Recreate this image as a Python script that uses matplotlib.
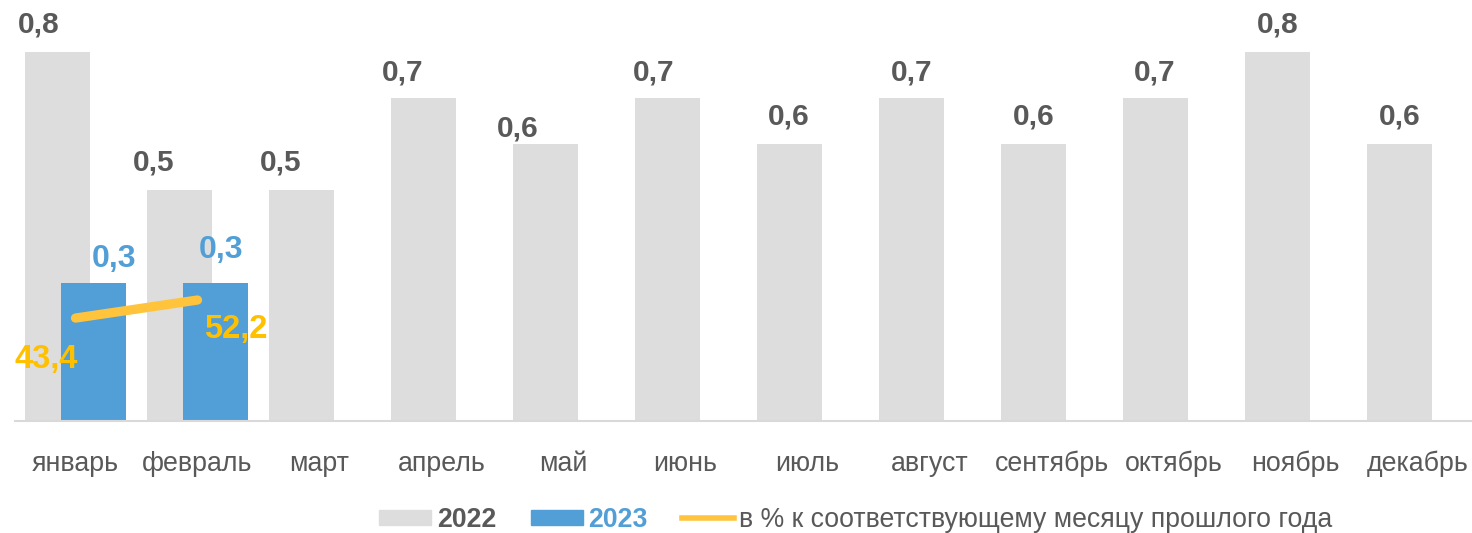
import matplotlib
matplotlib.use("Agg")
import matplotlib.pyplot as plt
from matplotlib.patches import Patch
from matplotlib.lines import Line2D
import numpy as np

plt.rcParams['font.family'] = ['Liberation Sans', 'DejaVu Sans']

months = ["январь", "февраль", "март", "апрель", "май", "июнь",
          "июль", "август", "сентябрь", "октябрь", "ноябрь", "декабрь"]
values_2022 = [0.8, 0.5, 0.5, 0.7, 0.6, 0.7, 0.6, 0.7, 0.6, 0.7, 0.8, 0.6]
values_2023 = [0.3, 0.3]
pct_prev_year = [43.4, 52.2]

# label placement tweaks (pixels), style only
lbl22_dx = [-19, -26, -21, -21, -28, -14, -1, 0, 0, -1, 0, 0]
lbl22_dy = [28, 28, 28, 26, 16, 26, 28, 26, 28, 26, 28, 28]
lbl23_dx = [20, 5]
lbl23_dy = [24, 33]
lblpct_dx = [-29, 38]
lblpct_dy = [-41, -29]

C_GRAY = "#DDDDDD"
C_BLUE = "#519FD6"
C_YEL = "#FFC33C"
C_YEL_TXT = "#FFC000"
C_TXT = "#595959"
PX = 0.72  # points per pixel at 100 dpi

fig = plt.figure(figsize=(14.72, 5.33), dpi=100)
ax = fig.add_axes([14.5/1472, 112/533, 1464/1472, 415/533])

x = np.arange(len(months))
x23 = np.arange(len(values_2023))
w = 0.533
off = 0.148

ax.bar(x - off, values_2022, width=w, color=C_GRAY, zorder=1)
ax.bar(x23 + off, values_2023, width=w, color=C_BLUE, zorder=2)

def fmt(v):
    return f"{v:.1f}".replace(".", ",")

for xi, v, dx, dy in zip(x, values_2022, lbl22_dx, lbl22_dy):
    ax.annotate(fmt(v), (xi - off, v), xytext=(dx*PX, dy*PX),
                textcoords="offset points", ha="center", va="center",
                fontsize=21.5, fontweight="bold", color=C_TXT)
for xi, v, dx, dy in zip(x23, values_2023, lbl23_dx, lbl23_dy):
    ax.annotate(fmt(v), (xi + off, v), xytext=(dx*PX, dy*PX),
                textcoords="offset points", ha="center", va="center",
                fontsize=23, fontweight="bold", color=C_BLUE)

ax.set_xlim(-0.5, len(months) - 0.5)
ax.set_ylim(0, 0.9)
ax.set_yticks([])
ax.set_xticks(x)
ax.set_xticklabels(months, fontsize=19.3, color=C_TXT)
ax.tick_params(axis="x", length=0, pad=21.5)
for s in ["top", "right", "left"]:
    ax.spines[s].set_visible(False)
ax.spines["bottom"].set_color("#D9D9D9")
ax.spines["bottom"].set_linewidth(1.5)

ax2 = ax.twinx()
ax2.set_ylim(-6.8, 195.6)
ax2.plot(x23, pct_prev_year, color=C_YEL, lw=6.7, solid_capstyle="round", zorder=3)
for xi, v, dx, dy in zip(x23, pct_prev_year, lblpct_dx, lblpct_dy):
    ax2.annotate(fmt(v), (xi, v), xytext=(dx*PX, dy*PX),
                 textcoords="offset points", ha="center", va="center",
                 fontsize=23.5, fontweight="bold", color=C_YEL_TXT)
ax2.axis("off")

handles = [Patch(color=C_GRAY), Patch(color=C_BLUE),
           Line2D([0], [0], color=C_YEL, lw=4)]
labels = ["2022", "2023", "в % к соответствующему месяцу прошлого года"]
leg = fig.legend(handles, labels, loc="center", bbox_to_anchor=(856/1472, 1 - 520/533),
                 ncol=3, frameon=False, fontsize=19.2, handlelength=1.95, handleheight=0.5,
                 handletextpad=0.2, columnspacing=1.3, borderpad=0)
txts = leg.get_texts()
txts[0].set_color(C_TXT); txts[0].set_fontweight("bold")
txts[1].set_color(C_BLUE); txts[1].set_fontweight("bold")
txts[2].set_color(C_TXT)

fig.savefig("out.png", dpi=100)
